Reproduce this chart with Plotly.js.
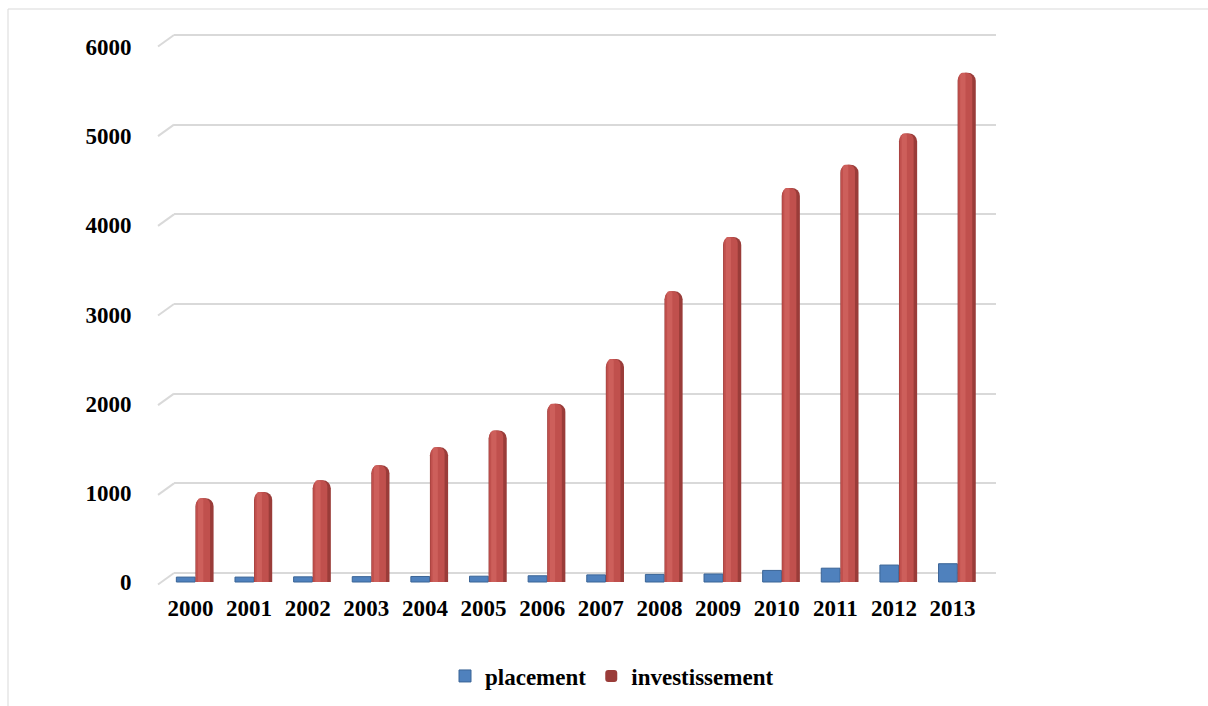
<!DOCTYPE html>
<html>
<head>
<meta charset="utf-8">
<script src="https://cdn.plot.ly/plotly-3.0.1.min.js"></script>
<style>html,body{margin:0;padding:0;background:#fff;}#chart{width:1208px;height:706px;}</style>
</head>
<body>
<div id="chart"></div>
<script>
const years = ['2000','2001','2002','2003','2004','2005','2006','2007','2008','2009','2010','2011','2012','2013'];
const placement = [55, 55, 58, 60, 62, 65, 70, 80, 85, 90, 130, 155, 190, 205];
const investissement = [940, 1010, 1140, 1310, 1510, 1700, 2000, 2500, 3260, 3870, 4420, 4680, 5030, 5710];
const yTicks = [0, 1000, 2000, 3000, 4000, 5000, 6000];

const W = 1208, HT = 706;
const T = 30, B = 592, L = 174, R = 996;
const H = B - T;
function rangeFor(p0, p6000) {
  const pxPer = (p0 - p6000) / 6000;
  const lo = -(B - p0) / pxPer;
  return {range: [lo, lo + H / pxPer], pxPer: pxPer};
}
const back = rangeFor(573, 35);
const front = rangeFor(582, 47);
const xRange = [-0.28, 13.74];

const font = {family: '"Liberation Serif", "Times New Roman", serif', size: 23, color: '#000', weight: 'bold'};

const traces = [
  {type: 'bar', name: 'placement', x: years, y: placement, yaxis: 'y2',
   width: 0.32, offset: -0.24,
   marker: {color: '#4f81bd', line: {color: '#3a6496', width: 1}}},
  {type: 'bar', name: 'investissement', x: years, y: investissement, yaxis: 'y2',
   width: 0.31, offset: 0.085,
   marker: {color: '#9a3c39', cornerradius: '45%', line: {width: 0}}},
  {type: 'bar', name: 'investissement', x: years, y: investissement, yaxis: 'y2', showlegend: false,
   width: 0.24, offset: 0.095,
   marker: {color: '#c0504d', cornerradius: '45%', line: {width: 0}}},
  {type: 'bar', name: 'investissement', x: years, y: investissement, yaxis: 'y2', showlegend: false,
   width: 0.09, offset: 0.13,
   marker: {color: '#cd5f5b', cornerradius: '45%', line: {width: 0}}}
];

function pyPaper(px) { return (B - px) / H; }
function pxPaper(px) { return (px - L) / (R - L); }

// short slanted segments on the left "side wall" joining each back gridline to its label level
const shapes = yTicks.map(v => ({
  type: 'line', xref: 'paper', yref: 'y', layer: 'below',
  x0: pxPaper(158), x1: pxPaper(L),
  y0: v - 11.5 / back.pxPer, y1: v,
  line: {color: '#d9d9d9', width: 2}
}));
// outer chart frame (top and left edges visible)
shapes.push({
  type: 'rect', xref: 'paper', yref: 'paper', layer: 'below',
  x0: pxPaper(8), x1: pxPaper(W + 10),
  y0: pyPaper(HT + 10), y1: pyPaper(9),
  line: {color: '#d9d9d9', width: 1}, fillcolor: 'rgba(0,0,0,0)'
});

const layout = {
  width: W, height: HT,
  margin: {l: L, r: W - R, t: T, b: HT - B},
  paper_bgcolor: '#fff', plot_bgcolor: 'rgba(0,0,0,0)',
  barmode: 'overlay',
  font: font,
  showlegend: true,
  legend: {orientation: 'h', xref: 'container', yref: 'container', x: 612 / W, y: 1 - 676 / HT,
           xanchor: 'center', yanchor: 'middle', font: font, itemwidth: 30, tracegroupgap: 0},
  xaxis: {type: 'category', range: xRange, showgrid: false, zeroline: false, showline: false,
          ticks: '', tickfont: font, fixedrange: true},
  yaxis: {range: back.range, tickvals: yTicks, showticklabels: false, showgrid: true,
          gridcolor: '#d9d9d9', gridwidth: 2, zeroline: false, showline: false, ticks: ''},
  yaxis2: {overlaying: 'y', side: 'left', range: front.range, tickvals: yTicks,
           ticktext: yTicks.map(String), showgrid: false, zeroline: false, showline: false,
           ticks: 'outside', ticklen: 37, tickcolor: 'rgba(0,0,0,0)', tickfont: font},
  shapes: shapes
};

Plotly.newPlot('chart', traces, layout, {staticPlot: true});
</script>
</body>
</html>
